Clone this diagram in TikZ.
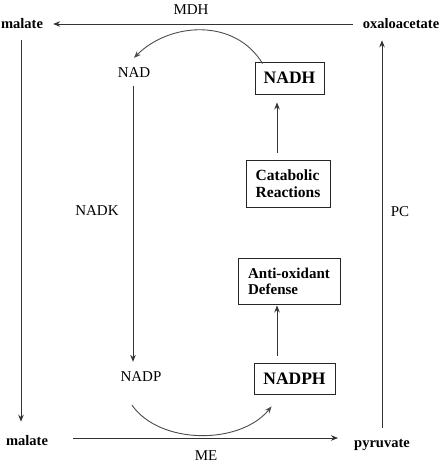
\documentclass[tikz,border=0pt]{standalone}
\usepackage{fontspec}
\setmainfont{Liberation Serif}
\usetikzlibrary{arrows.meta}
\begin{document}
\begin{tikzpicture}[x=1pt,y=-1pt,
  lbl/.style={inner sep=0pt,font=\fontsize{15}{18}\selectfont},
  met/.style={inner sep=0pt,font=\fontsize{14.5}{17}\selectfont\bfseries},
  boxA/.style={draw=black!85,line width=0.9pt,inner sep=0pt,font=\fontsize{17.5}{20}\selectfont\bfseries},
  boxB/.style={draw=black!85,line width=0.9pt,inner sep=0pt,align=left,font=\fontsize{15.5}{17}\selectfont\bfseries},
  arr/.style={draw=black!80,line width=0.9pt,-{Stealth[length=7pt,width=5.5pt]}},
  curv/.style={draw=black!70,line width=0.9pt,-{Stealth[length=7pt,width=5.5pt]}}]
\useasboundingbox[fill=white] (0,0) rectangle (442,463);
% metabolites
\node[met] (malT) at (22,24) {malate};
\node[met] (oaa) at (401,24) {oxaloacetate};
\node[met] (malB) at (27,441) {malate};
\node[met] (pyr) at (382,445) {pyruvate};
% labels
\node[lbl] (mdh) at (191,10) {MDH};
\node[lbl] (me) at (206,456) {ME};
\node[lbl] (pc) at (400,212) {PC};
\node[lbl] (nadk) at (97,211) {NADK};
\node[lbl] (nad) at (134,73) {NAD};
\node[lbl] (nadp) at (141,377) {NADP};
% boxes
\node[boxA,minimum width=69pt,minimum height=32pt] (nadh) at (289.5,78) {NADH};
\node[boxA,minimum width=81pt,minimum height=31pt] (nadph) at (294.5,378.5) {NADPH};
\node[boxB,minimum width=84pt,minimum height=47pt] (cat) at (288,183.5) {Catabolic\\Reactions};
\node[boxB,minimum width=102pt,minimum height=46pt,font=\fontsize{15}{16}\selectfont\bfseries] (anti) at (289,281) {Anti-oxidant\\Defense};
% outer cycle
\draw[arr,shorten <=10pt,shorten >=10pt] (oaa.west) -- (malT.east);
\draw[arr,shorten <=11pt,shorten >=14pt] ([xshift=-1pt]malT.south) -- ([xshift=-1pt]malT.south |- malB.north);
\draw[arr,shorten <=25pt,shorten >=16pt] ([yshift=3pt]malB.east) -- ([yshift=3pt]malB.east -| pyr.west);
\draw[arr,shorten <=11pt,shorten >=11pt] (pyr.north) -- (pyr.north |- oaa.south);
% inner
\draw[arr,shorten <=8pt,shorten >=10pt] ([xshift=-1pt]nad.south) -- ([xshift=-1pt]nad.south |- nadp.north);
\draw[arr,shorten <=7pt,shorten >=8pt] ([xshift=-11pt]cat.north) -- ([xshift=-11pt]cat.north |- nadh.south);
\draw[arr,shorten <=7pt,shorten >=1pt] ([xshift=-17.5pt]nadph.north) -- ([xshift=-17.5pt]nadph.north |- anti.south);
% curves
\draw[curv] ([shift={(8pt,-2pt)}]nadh.north west) .. controls (235,18) and (170,22) .. ([yshift=10pt]nad.north);
\draw[curv] ([shift={(-9pt,-23pt)}]nadp.south) .. controls (160,445) and (240,445) .. ([shift={(18pt,-12pt)}]nadph.south west);
\end{tikzpicture}
\end{document}
